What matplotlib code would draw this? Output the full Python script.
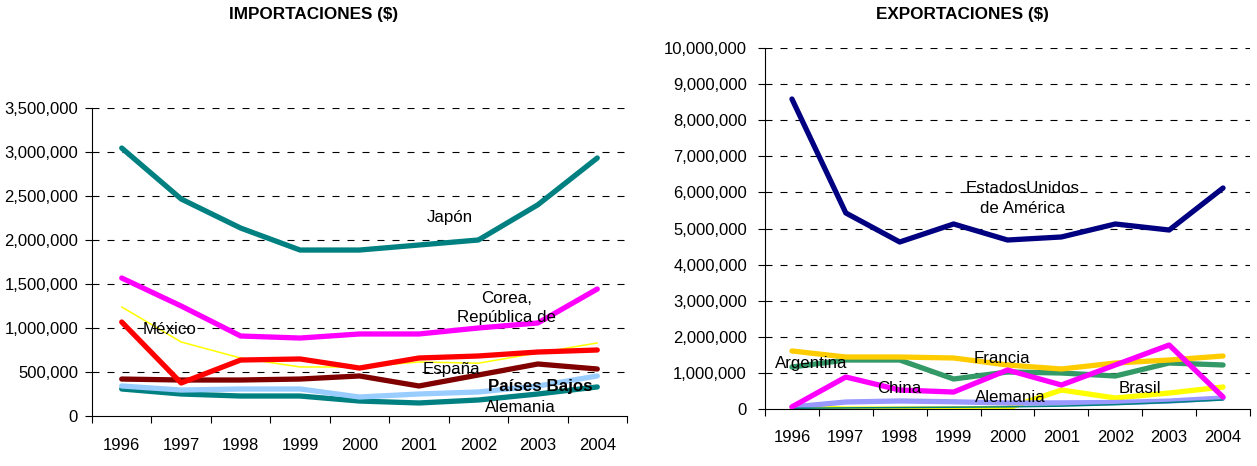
import matplotlib.pyplot as plt
from matplotlib.ticker import FuncFormatter, FixedLocator, NullFormatter

plt.rcParams['font.family'] = ['Liberation Sans', 'DejaVu Sans']

years = ['1996', '1997', '1998', '1999', '2000', '2001', '2002', '2003', '2004']

# importaciones ($)
imp_japon = [3045000, 2466000, 2136000, 1886000, 1886000, 1943000, 2000000, 2400000, 2932000]
imp_corea = [1568000, 1250000, 909000, 886000, 932000, 932000, 1000000, 1057000, 1443000]
imp_otro = [1239000, 841000, 659000, 557000, 557000, 614000, 600000, 716000, 830000]
imp_mexico = [1068000, 375000, 636000, 648000, 545000, 659000, 682000, 727000, 750000]
imp_espana = [420000, 409000, 409000, 420000, 455000, 341000, 466000, 591000, 534000]
imp_paises_bajos = [341000, 295000, 307000, 307000, 216000, 250000, 273000, 341000, 455000]
imp_alemania = [307000, 250000, 227000, 227000, 170000, 148000, 182000, 250000, 330000]

# exportaciones ($)
exp_eeuu = [8587000, 5430000, 4626000, 5125000, 4681000, 4765000, 5125000, 4958000, 6122000]
exp_francia = [1607000, 1440000, 1440000, 1413000, 1219000, 1108000, 1274000, 1357000, 1468000]
exp_argentina = [1163000, 1357000, 1357000, 831000, 1025000, 997000, 914000, 1274000, 1219000]
exp_china = [60000, 886000, 526000, 470000, 1080000, 665000, 1219000, 1773000, 332000]
exp_brasil = [50000, 0, 0, 0, 20000, 526000, 305000, 443000, 609000]
exp_alemania = [55000, 194000, 222000, 200000, 166000, 170000, 180000, 220000, 305000]
exp_otro = [20000, 30000, 40000, 50000, 60000, 80000, 120000, 180000, 250000]

fig = plt.figure(figsize=(12.57, 4.66), dpi=100)
ax1 = fig.add_axes([92 / 1257, 50 / 466, 535 / 1257, 308 / 466])
ax2 = fig.add_axes([765 / 1257, 57 / 466, 485 / 1257, 361 / 466])

x = range(len(years))
fmt = FuncFormatter(lambda v, p: f'{int(v):,}')


def style_axis(ax, ymax, step, ypad, xpad):
    ax.set_xlim(-0.5, len(years) - 0.5)
    ax.set_ylim(0, ymax)
    ax.set_yticks(range(0, ymax + 1, step))
    ax.yaxis.set_major_formatter(fmt)
    ax.xaxis.set_major_locator(FixedLocator([i - 0.5 for i in range(len(years) + 1)]))
    ax.xaxis.set_major_formatter(NullFormatter())
    ax.xaxis.set_minor_locator(FixedLocator(list(x)))
    ax.set_xticklabels(years, minor=True)
    ax.tick_params(axis='x', which='major', length=5, direction='out', width=0.8)
    ax.tick_params(axis='x', which='minor', length=0, pad=xpad, labelsize=12)
    ax.tick_params(axis='y', length=5, direction='out', width=0.8, pad=ypad, labelsize=12)
    ax.spines['top'].set_visible(False)
    ax.spines['right'].set_visible(False)
    for t in ax.get_yticks()[1:]:
        ax.axhline(t, color='black', lw=0.8, ls=(0, (6.3, 7.2)), zorder=0)


def plot_line(ax, values, color, lw=3.8, z=2):
    ax.plot(list(x), values, color=color, lw=lw, solid_capstyle='round',
            solid_joinstyle='round', zorder=z)


# left panel
style_axis(ax1, 3500000, 500000, 5, 16)
plot_line(ax1, imp_alemania, '#008080')
plot_line(ax1, imp_paises_bajos, '#99CCFF')
plot_line(ax1, imp_espana, '#800000')
plot_line(ax1, imp_otro, '#FFFF00', lw=1.1)
plot_line(ax1, imp_mexico, '#FF0000')
plot_line(ax1, imp_corea, '#FF00FF')
plot_line(ax1, imp_japon, '#008080')

lab = dict(fontsize=12.2, ha='center', va='center', zorder=5)
ax1.text(5.52, 2260000, 'Japón', **lab)
ax1.text(6.48, 1230000, 'Corea,\nRepública de', linespacing=1.35, **lab)
ax1.text(0.8, 980000, 'México', **lab)
ax1.text(5.55, 530000, 'España', **lab)
ax1.text(7.05, 340000, 'Países Bajos', fontweight='bold', **lab)
ax1.text(6.7, 100000, 'Alemania', **lab)

# right panel
style_axis(ax2, 10000000, 1000000, 8, 15)
plot_line(ax2, exp_brasil, '#FFFF00')
plot_line(ax2, exp_alemania, '#9999FF')
plot_line(ax2, exp_otro, '#008080', lw=1.1)
plot_line(ax2, exp_argentina, '#339966')
plot_line(ax2, exp_francia, '#FFCC00')
plot_line(ax2, exp_china, '#FF00FF')
plot_line(ax2, exp_eeuu, '#000080')

ax2.text(4.28, 5830000, 'EstadosUnidos\nde América', linespacing=1.35, **lab)
ax2.text(0.35, 1270000, 'Argentina', **lab)
ax2.text(3.9, 1410000, 'Francia', **lab)
ax2.text(2.0, 580000, 'China', **lab)
ax2.text(4.05, 310000, 'Alemania', **lab)
ax2.text(6.45, 560000, 'Brasil', **lab)

fig.text(314 / 1257, 1 - 14 / 466, 'IMPORTACIONES ($)', fontsize=12.3,
         fontweight='bold', ha='center', va='center')
fig.text(962 / 1257, 1 - 14 / 466, 'EXPORTACIONES ($)', fontsize=12.3,
         fontweight='bold', ha='center', va='center')

fig.savefig('out.png', dpi=100)
